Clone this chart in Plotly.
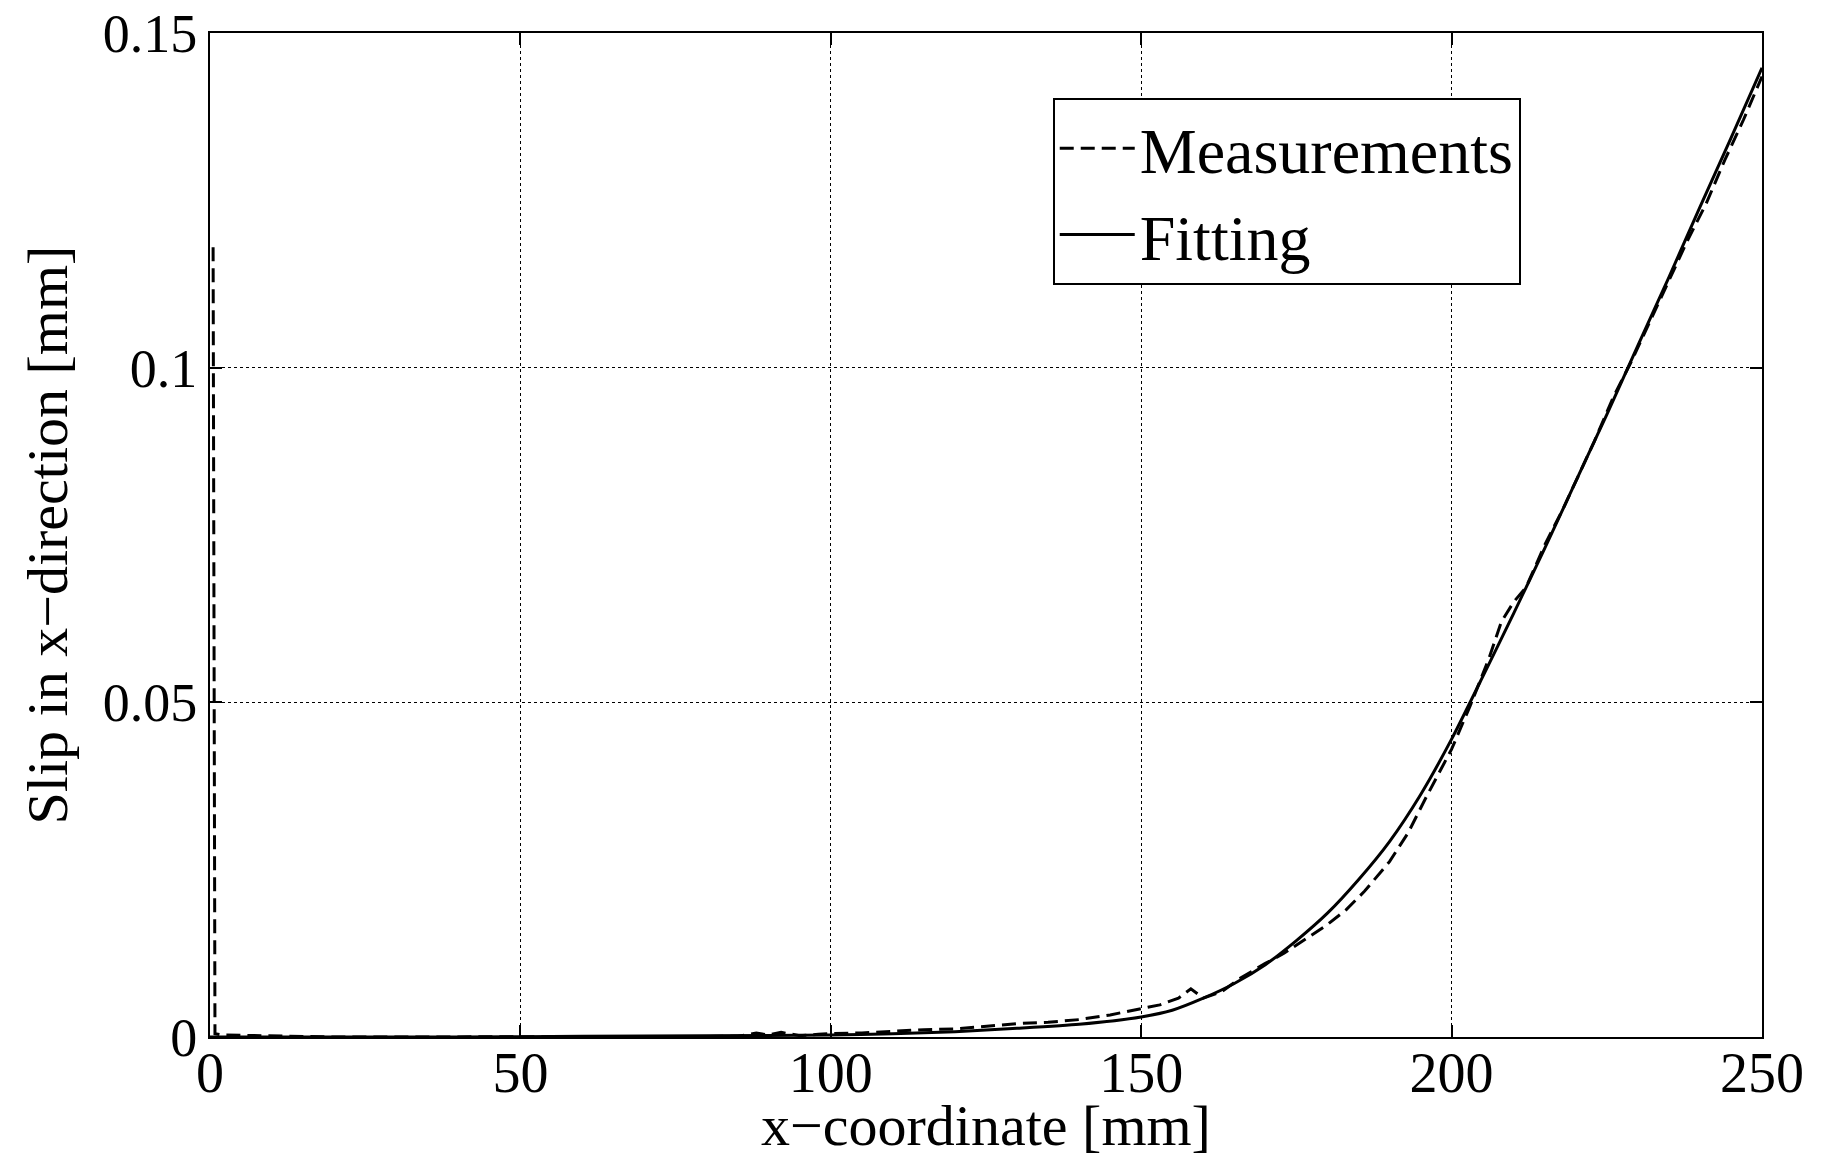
import plotly.graph_objects as go

# Measurements (dashed)
meas_x = [0.5, 0.8, 2, 10, 20, 30, 40, 50, 60, 70, 80, 85, 88, 90, 92, 95, 98, 100,
          105, 110, 115, 120, 125, 130, 135, 140, 145, 150, 153, 156, 158, 160, 163,
          166, 170, 173, 176, 180, 183, 186, 190, 193, 196, 200, 203, 206, 208, 210,
          212, 215, 218, 220, 223, 226, 229, 232, 235, 238, 241, 244, 247, 250]
meas_y = [0.118, 0.0005, 0.0003, 0.0002, 0.0, 0.0, 0.0, 0.0, 0.0, 0.0, 0.0001, 0.0001,
          0.0006, 0.0003, 0.0007, 0.0002, 0.0004, 0.0005, 0.0006, 0.0009, 0.0011, 0.0012,
          0.0016, 0.0020, 0.0022, 0.0026, 0.0033, 0.0042, 0.0048, 0.0058, 0.0072, 0.0058,
          0.0068, 0.0088, 0.0110, 0.0125, 0.0143, 0.0168, 0.0190, 0.0218, 0.0262, 0.0305,
          0.0360, 0.0430, 0.0495, 0.0565, 0.0620, 0.0650, 0.0672, 0.0735, 0.0790, 0.0830,
          0.0890, 0.0955, 0.1010, 0.1070, 0.1130, 0.1190, 0.1245, 0.1310, 0.1370, 0.1435]

# Fitting (solid)
fit_x = [0, 20, 40, 60, 80, 100, 110, 120, 130, 140, 150, 155, 160, 165, 170, 175,
         180, 185, 190, 195, 200, 205, 210, 215, 220, 225, 230, 235, 240, 245, 250]
fit_y = [0.0, 0.0, 0.0, 0.0001, 0.0002, 0.0003, 0.0005, 0.0008, 0.0013, 0.0019, 0.0030,
         0.0040, 0.0058, 0.0080, 0.0108, 0.0144, 0.0185, 0.0235, 0.0292, 0.0362, 0.0445,
         0.0538, 0.0633, 0.0730, 0.0830, 0.0930, 0.1033, 0.1135, 0.1240, 0.1343, 0.1448]

x_ticks = [0, 50, 100, 150, 200, 250]
y_ticks = [0, 0.05, 0.1, 0.15]
y_tick_labels = ["0", "0.05", "0.1", "0.15"]

FONT = "Liberation Serif"

fig = go.Figure()
fig.add_trace(go.Scatter(x=meas_x, y=meas_y, mode="lines", name="Measurements",
                         line=dict(color="black", width=3, dash="14px,7px")))
fig.add_trace(go.Scatter(x=fit_x, y=fit_y, mode="lines", name="Fitting",
                         line=dict(color="black", width=3, shape="spline", smoothing=0.6)))

axis_common = dict(showline=True, linecolor="black", linewidth=2, mirror="ticks",
                   ticks="inside", ticklen=12, tickwidth=1.5, tickcolor="black",
                   showgrid=True, gridcolor="black", gridwidth=1, griddash="dot",
                   zeroline=False, automargin=False, ticklabeloverflow="allow")

fig.update_xaxes(range=[0, 250], tickvals=x_ticks, ticktext=[str(v) for v in x_ticks],
                 ticklabelstandoff=-14,
                 tickfont=dict(family=FONT, size=56, color="black"),
                 title=dict(text="x\u2212coordinate [mm]", font=dict(family=FONT, size=58, color="black"),
                            standoff=8),
                 **axis_common)
fig.update_yaxes(range=[0, 0.15], tickvals=y_ticks, ticktext=y_tick_labels,
                 tickfont=dict(family=FONT, size=54, color="black"),
                 title=dict(text="Slip in x\u2212direction [mm]", font=dict(family=FONT, size=58, color="black"),
                            standoff=16),
                 **axis_common)

fig.update_layout(
    width=1831, height=1158,
    margin=dict(l=210, r=69, t=33, b=121),
    paper_bgcolor="white", plot_bgcolor="white",
    showlegend=True,
    legend=dict(x=0.543, y=0.935, xanchor="left", yanchor="top",
                bgcolor="white", bordercolor="black", borderwidth=2,
                font=dict(family=FONT, size=64, color="black"),
                itemwidth=75, tracegroupgap=0),
)

fig.write_html("out.html", config={"displayModeBar": False},
               post_script="document.body.style.margin='0';document.body.style.overflow='hidden';")
